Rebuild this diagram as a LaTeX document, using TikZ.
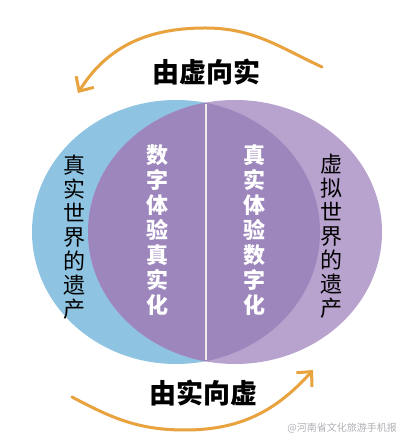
\documentclass[tikz,border=0pt]{standalone}
\usepackage{fontspec}
\usepackage{xcolor}
\usepackage{tikz}
\usetikzlibrary{arrows.meta, positioning, calc}
\newfontfamily\cjk{Noto Sans CJK SC}
\definecolor{realblue}{RGB}{142,196,226}
\definecolor{virtpurple}{RGB}{184,162,206}
\definecolor{lenspurple}{RGB}{156,134,188}
\definecolor{arroworange}{RGB}{232,162,62}
\definecolor{marktext}{RGB}{175,175,180}
\tikzset{
  flowlabel/.style={font=\cjk\bfseries\fontsize{27}{30}\selectfont, text=black, inner sep=0pt},
  outerlabel/.style={font=\cjk\fontsize{22}{24}\selectfont, text=black, align=center, inner sep=0pt},
  innerlabel/.style={font=\cjk\bfseries\fontsize{22}{25}\selectfont, text=white, align=center, inner sep=0pt},
  flowarrow/.style={-{Straight Barb[length=11pt, width=21pt, line width=3pt]}, line width=3pt,
    color=arroworange, line cap=round}
}

\begin{document}
\begin{tikzpicture}[x=1pt, y=1pt]
  \useasboundingbox (0,0) rectangle (400,443);
  \fill[white] (0,0) rectangle (400,443);

  % Two worlds
  \fill[realblue] (176,211) ellipse [x radius=144, y radius=132];
  \fill[virtpurple] (235,211) ellipse [x radius=147, y radius=132];
  \begin{scope}
    \clip (176,211) ellipse [x radius=144, y radius=132];
    \fill[lenspurple] (235,211) ellipse [x radius=147, y radius=132];
  \end{scope}

  % Divider in the overlap
  \coordinate (divtop) at (206,339);
  \coordinate (divbot) at (206,83);
  \draw[white!85!gray, line width=2pt] (divtop) -- (divbot);

  % Vertical labels
  \node[outerlabel] (realheritage) at (74,206) {真\\实\\世\\界\\的\\遗\\产};
  \node[innerlabel] (digitreal) at (157,213) {数\\字\\体\\验\\真\\实\\化};
  \node[innerlabel] (realdigit) at (254,213) {真\\实\\体\\验\\数\\字\\化};
  \node[outerlabel] (virtheritage) at (331,207) {虚\\拟\\世\\界\\的\\遗\\产};

  % Flow labels
  \node[flowlabel] (tovirt) at (206,371) {由虚向实};
  \node[flowlabel] (toreal) at (203,50) {由实向虚};

  % Flow arrows
  \coordinate (topstart) at (322,376);
  \coordinate (toppeak) at (205,415);
  \coordinate (topend) at (78,350);
  \draw[flowarrow] (topstart) to[out=155, in=0] (toppeak) to[out=180, in=58] (topend);
  \coordinate (botstart) at (72,46);
  \coordinate (botlow) at (185,13);
  \coordinate (botend) at (313,73);
  \draw[flowarrow] (botstart) to[out=-28, in=180] (botlow) to[out=0, in=228] (botend);

  % Watermark
  \node[font=\cjk\fontsize{10}{10}\selectfont, text=marktext, anchor=east, inner sep=0pt] (mark) at (397,15) {@河南省文化旅游手机报};
\end{tikzpicture}
\end{document}
